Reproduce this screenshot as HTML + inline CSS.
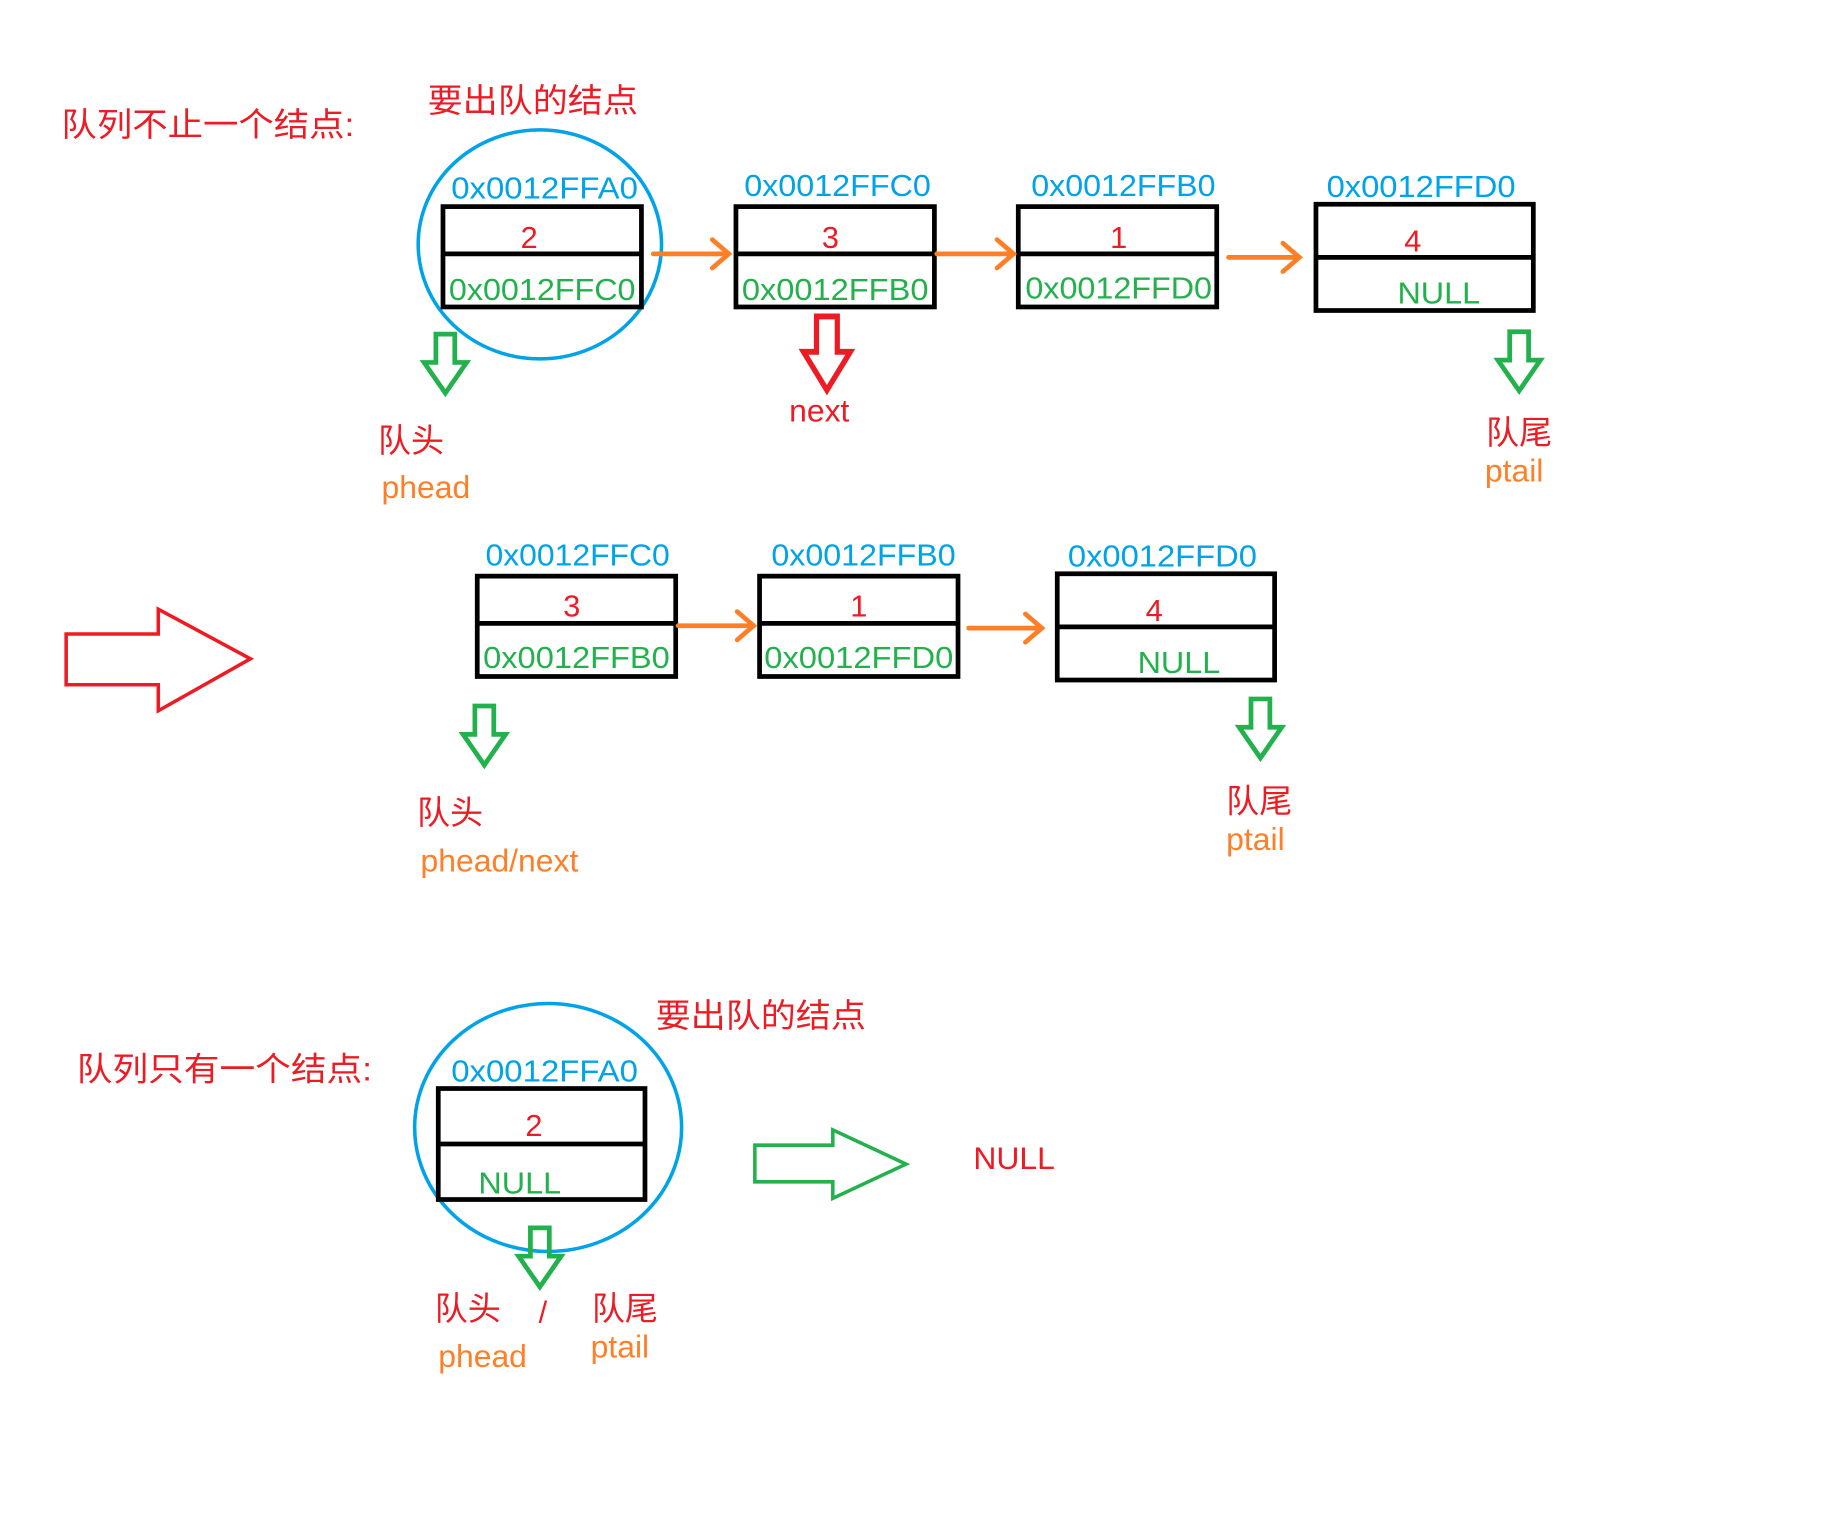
<!DOCTYPE html>
<html><head><meta charset="utf-8"><style>
html,body{margin:0;padding:0;background:#fff;width:1831px;height:1523px;overflow:hidden}
svg{display:block}
text{font-family:"Liberation Sans","Noto Sans CJK SC",sans-serif}
.r{fill:#ed1c24}.b{fill:#00a2e8}.g{fill:#22b14c}.o{fill:#ff7f27}
.box{fill:none;stroke:#000;stroke-width:4}
.oa{fill:none;stroke:#ff7f27;stroke-width:4;stroke-linecap:round}
.ga{fill:none;stroke:#22b14c;stroke-width:4}
</style></head><body>
<svg width="1831" height="1523" viewBox="0 0 1550 1290" preserveAspectRatio="none">
<defs>
<path id="da" d="M-8,0 H8 V24 H18 L0,50 L-18,24 H-8 Z"/>
</defs>
<!-- Row 1 -->
<text class="r" x="52" y="115" font-size="28" textLength="248" lengthAdjust="spacingAndGlyphs">队列不止一个结点:</text>
<text class="r" x="362" y="95" font-size="28" textLength="178" lengthAdjust="spacingAndGlyphs">要出队的结点</text>
<ellipse cx="457" cy="207" rx="103" ry="97" fill="none" stroke="#00a2e8" stroke-width="3"/>

<g font-size="26">
<text class="b" x="382" y="168" textLength="158" lengthAdjust="spacingAndGlyphs">0x0012FFA0</text>
<rect class="box" x="375" y="175" width="168" height="85"/><line class="box" x1="375" y1="215" x2="543" y2="215"/>
<text class="r" x="448" y="210" text-anchor="middle">2</text>
<text class="g" x="380" y="254" textLength="158" lengthAdjust="spacingAndGlyphs">0x0012FFC0</text>

<text class="b" x="630" y="166" textLength="158" lengthAdjust="spacingAndGlyphs">0x0012FFC0</text>
<rect class="box" x="623" y="175" width="168" height="85"/><line class="box" x1="623" y1="215" x2="791" y2="215"/>
<text class="r" x="703" y="210" text-anchor="middle">3</text>
<text class="g" x="628" y="254" textLength="158" lengthAdjust="spacingAndGlyphs">0x0012FFB0</text>

<text class="b" x="873" y="166" textLength="156" lengthAdjust="spacingAndGlyphs">0x0012FFB0</text>
<rect class="box" x="862" y="175" width="168" height="85"/><line class="box" x1="862" y1="215" x2="1030" y2="215"/>
<text class="r" x="947" y="210" text-anchor="middle">1</text>
<text class="g" x="868" y="253" textLength="158" lengthAdjust="spacingAndGlyphs">0x0012FFD0</text>

<text class="b" x="1123" y="167" textLength="160" lengthAdjust="spacingAndGlyphs">0x0012FFD0</text>
<rect class="box" x="1114" y="173" width="184" height="90"/><line class="box" x1="1114" y1="218" x2="1298" y2="218"/>
<text class="r" x="1196" y="213" text-anchor="middle">4</text>
<text class="g" x="1183" y="257" textLength="70" lengthAdjust="spacingAndGlyphs">NULL</text>
</g>
<path class="oa" d="M553,215 H617 M603,203 L617,215 L603,227"/>
<path class="oa" d="M793,215 H858 M844,203 L858,215 L844,227"/>
<path class="oa" d="M1040,218 H1100 M1086,206 L1100,218 L1086,230"/>
<use href="#da" x="377" y="283" class="ga"/>
<use href="#da" x="1286" y="281" class="ga"/>
<use href="#da" x="700" y="268" fill="none" stroke="#ed1c24" stroke-width="4" transform="translate(700,268) scale(1.1,1.25) translate(-700,-268)"/>
<text class="r" x="320" y="383" font-size="28">队头</text>
<text class="o" x="323" y="422" font-size="27">phead</text>
<text class="r" x="668" y="357" font-size="27">next</text>
<text class="r" x="1258" y="376" font-size="28">队尾</text>
<text class="o" x="1257" y="408" font-size="27">ptail</text>

<!-- Row 2 -->
<path d="M56,537 H134 V516 L212,558 L134,602 V580 H56 Z" fill="none" stroke="#ed1c24" stroke-width="3"/>
<g font-size="26">
<text class="b" x="411" y="479" textLength="156" lengthAdjust="spacingAndGlyphs">0x0012FFC0</text>
<rect class="box" x="404" y="488" width="168" height="85"/><line class="box" x1="404" y1="528" x2="572" y2="528"/>
<text class="r" x="484" y="522" text-anchor="middle">3</text>
<text class="g" x="409" y="566" textLength="158" lengthAdjust="spacingAndGlyphs">0x0012FFB0</text>

<text class="b" x="653" y="479" textLength="156" lengthAdjust="spacingAndGlyphs">0x0012FFB0</text>
<rect class="box" x="643" y="488" width="168" height="85"/><line class="box" x1="643" y1="528" x2="811" y2="528"/>
<text class="r" x="727" y="522" text-anchor="middle">1</text>
<text class="g" x="647" y="566" textLength="160" lengthAdjust="spacingAndGlyphs">0x0012FFD0</text>

<text class="b" x="904" y="480" textLength="160" lengthAdjust="spacingAndGlyphs">0x0012FFD0</text>
<rect class="box" x="895" y="486" width="184" height="90"/><line class="box" x1="895" y1="531" x2="1079" y2="531"/>
<text class="r" x="977" y="526" text-anchor="middle">4</text>
<text class="g" x="963" y="570" textLength="70" lengthAdjust="spacingAndGlyphs">NULL</text>
</g>
<path class="oa" d="M574,530 H638 M624,518 L638,530 L624,542"/>
<path class="oa" d="M820,532 H882 M868,520 L882,532 L868,544"/>
<use href="#da" x="410" y="598" class="ga"/>
<use href="#da" x="1067" y="592" class="ga"/>
<text class="r" x="353" y="698" font-size="28">队头</text>
<text class="o" x="356" y="738" font-size="27">phead/next</text>
<text class="r" x="1038" y="688" font-size="28">队尾</text>
<text class="o" x="1038" y="720" font-size="27">ptail</text>

<!-- Row 3 -->
<text class="r" x="65" y="915" font-size="28" textLength="250" lengthAdjust="spacingAndGlyphs">队列只有一个结点:</text>
<text class="r" x="555" y="870" font-size="28" textLength="178" lengthAdjust="spacingAndGlyphs">要出队的结点</text>
<ellipse cx="464" cy="955" rx="113" ry="105" fill="none" stroke="#00a2e8" stroke-width="3"/>
<text class="b" x="382" y="916" font-size="26" textLength="158" lengthAdjust="spacingAndGlyphs">0x0012FFA0</text>
<rect class="box" x="371" y="922" width="175" height="94"/><line class="box" x1="371" y1="969" x2="546" y2="969"/>
<text class="r" x="452" y="962" font-size="26" text-anchor="middle">2</text>
<text class="g" x="405" y="1011" font-size="26" textLength="70" lengthAdjust="spacingAndGlyphs">NULL</text>
<use href="#da" x="457" y="1040" class="ga"/>
<path d="M639,970 H705 V957 L767,986 L705,1015 V1001 H639 Z" fill="none" stroke="#22b14c" stroke-width="3"/>
<text class="r" x="824" y="990" font-size="27">NULL</text>
<text class="r" x="368" y="1118" font-size="28">队头</text>
<text class="r" x="456" y="1120" font-size="26">/</text>
<text class="r" x="501" y="1118" font-size="28">队尾</text>
<text class="o" x="371" y="1158" font-size="27">phead</text>
<text class="o" x="500" y="1150" font-size="27">ptail</text>
</svg>
</body></html>
